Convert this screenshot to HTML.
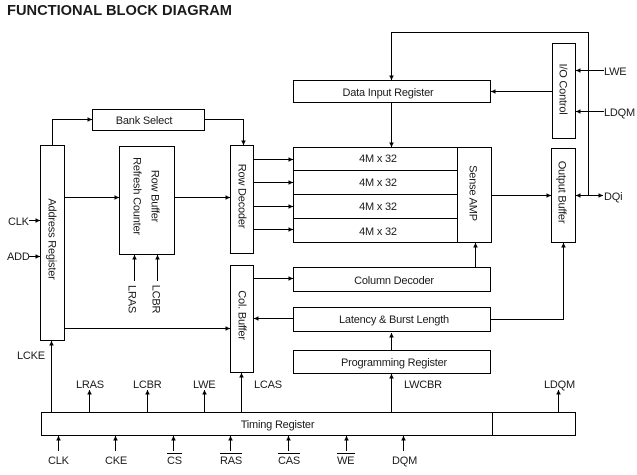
<!DOCTYPE html>
<html><head><meta charset="utf-8"><style>
html,body{margin:0;padding:0;background:#fff}
svg{display:block}
text{font-family:"Liberation Sans",Arial,sans-serif;font-size:11px;letter-spacing:-0.2px;fill:#1a1a1a}
.m{text-anchor:middle}
rect{fill:none;stroke:#000;stroke-width:1}
path.l{fill:none;stroke:#000;stroke-width:1}
.a{marker-end:url(#ah)}
</style></head><body>
<svg width="637" height="475" viewBox="0 0 637 475" xmlns="http://www.w3.org/2000/svg">
<defs><marker id="ah" markerUnits="userSpaceOnUse" markerWidth="6" markerHeight="6" refX="4.5" refY="3" orient="auto"><path d="M0,0.7 L4.5,3 L0,5.3 Z" fill="#000"/></marker>
<marker id="as" markerUnits="userSpaceOnUse" markerWidth="6" markerHeight="6" refX="4.5" refY="3" orient="auto-start-reverse"><path d="M0,0.7 L4.5,3 L0,5.3 Z" fill="#000"/></marker></defs>
<text x="7" y="15" textLength="225" lengthAdjust="spacingAndGlyphs" style="font-weight:bold;font-size:14.5px;letter-spacing:0">FUNCTIONAL BLOCK DIAGRAM</text>

<rect x="40.5" y="145.5" width="24" height="195"/>
<rect x="119.5" y="146.5" width="55" height="108"/>
<rect x="230.5" y="145.5" width="23" height="108"/>
<rect x="92.5" y="109.5" width="112" height="21"/>
<rect x="293.5" y="80.5" width="197" height="22"/>
<rect x="293.5" y="147.5" width="198" height="95"/>
<path class="l" d="M293 170.5H457M293 194.5H457M293 218.5H457M457.5 147V242"/>
<rect x="552.5" y="43.5" width="23" height="95"/>
<rect x="551.5" y="148.5" width="24" height="94"/>
<rect x="230.5" y="265.5" width="23" height="107"/>
<rect x="293.5" y="267.5" width="197" height="24"/>
<rect x="293.5" y="307.5" width="197" height="24"/>
<rect x="293.5" y="350.5" width="197" height="23"/>
<rect x="41.5" y="412.5" width="534" height="23"/>
<path class="l" d="M492.5 412V435"/>

<path class="l a" d="M52.5 145V119.5H92"/>
<path class="l a" d="M204.5 119.5H243.5V145"/>
<path class="l a" d="M64 197.5H119"/>
<path class="l a" d="M174.5 197.5H230"/>
<path class="l a" d="M253.5 159.5H293"/>
<path class="l a" d="M253.5 182.5H293"/>
<path class="l a" d="M253.5 206.5H293"/>
<path class="l a" d="M253.5 229.5H293"/>
<path class="l a" d="M29 220.5H40"/>
<path class="l a" d="M29 256.5H40"/>
<path class="l a" d="M134.5 281V255"/>
<path class="l a" d="M157.5 281V255"/>
<path class="l a" d="M64 328.5H230"/>
<path class="l a" d="M253.5 278.5H293"/>
<path class="l a" d="M293 318.5H254"/>
<path class="l a" d="M490.5 319.5H563.5V243"/>
<path class="l a" d="M475.5 267V243"/>
<path class="l a" d="M391.5 350V333"/>
<path class="l a" d="M391.5 412V374"/>
<path class="l a" d="M558.5 412V390"/>
<path class="l a" d="M51.5 412V341"/>
<path class="l a" d="M89.5 412V390"/>
<path class="l a" d="M147.5 412V390"/>
<path class="l a" d="M204.5 412V390"/>
<path class="l a" d="M241.5 412V373"/>
<path class="l a" d="M58.5 451V436"/>
<path class="l a" d="M115.5 451V436"/>
<path class="l a" d="M173.5 451V436"/>
<path class="l a" d="M230.5 451V436"/>
<path class="l a" d="M288.5 451V436"/>
<path class="l a" d="M346.5 451V436"/>
<path class="l a" d="M403.5 451V436"/>
<path class="l a" d="M391.5 102V147"/>
<path class="l a" d="M552 91.5H491"/>
<path class="l a" d="M604 70.5H576"/>
<path class="l a" d="M604 111.5H576"/>
<path class="l a" d="M491 195.5H551"/>
<path class="l a" d="M588.5 195.5V32.5H391.5V80"/>
<path class="l" d="M576 195.5H603" marker-start="url(#as)" marker-end="url(#as)"/>

<text class="m" x="144" y="124">Bank Select</text>
<text class="m" x="388" y="96">Data Input Register</text>
<text class="m" x="378" y="162">4M x 32</text>
<text class="m" x="378" y="186">4M x 32</text>
<text class="m" x="378" y="210">4M x 32</text>
<text class="m" x="378" y="235">4M x 32</text>
<text class="m" x="394" y="284">Column Decoder</text>
<text class="m" x="394" y="323">Latency &amp; Burst Length</text>
<text class="m" x="394" y="366">Programming Register</text>
<text class="m" x="277.5" y="428">Timing Register</text>

<text class="m" transform="translate(48.5 239) rotate(90)">Address Register</text>
<text class="m" transform="translate(151.5 196) rotate(90)">Row Buffer</text>
<text class="m" transform="translate(133.5 196) rotate(90)">Refresh Counter</text>
<text class="m" transform="translate(238.5 196) rotate(90)">Row Decoder</text>
<text class="m" transform="translate(238.5 315) rotate(90)">Col. Buffer</text>
<text class="m" transform="translate(469.5 193) rotate(90)">Sense AMP</text>
<text class="m" transform="translate(559.5 89) rotate(90)">I/O Control</text>
<text class="m" transform="translate(558.5 192) rotate(90)">Output Buffer</text>
<text class="m" transform="translate(128.5 299) rotate(90)">LRAS</text>
<text class="m" transform="translate(152.5 299) rotate(90)">LCBR</text>

<text x="8" y="225">CLK</text>
<text x="7" y="260">ADD</text>
<text x="604" y="75">LWE</text>
<text x="604" y="116">LDQM</text>
<text x="604" y="200">DQi</text>
<text x="17" y="359">LCKE</text>
<text x="76" y="388">LRAS</text>
<text x="133" y="388">LCBR</text>
<text x="193" y="388">LWE</text>
<text x="254" y="388">LCAS</text>
<text x="404" y="388">LWCBR</text>
<text x="544" y="388">LDQM</text>
<text x="48" y="464">CLK</text>
<text x="105" y="464">CKE</text>
<text x="167" y="464">CS</text>
<text x="220" y="464">RAS</text>
<text x="278" y="464">CAS</text>
<text x="337" y="464">WE</text>
<text x="392" y="464">DQM</text>
<path class="l" d="M167 453.5H182M220 453.5H242M278 453.5H300M337 453.5H355"/>
</svg>
</body></html>
